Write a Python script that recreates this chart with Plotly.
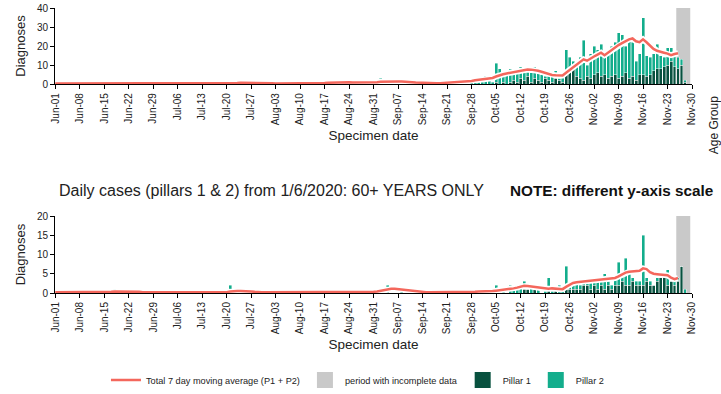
"""
Daily COVID-19 diagnoses by pillar, all ages and 60+ only.
"""

import pandas as pd
import plotly.graph_objects as go
from plotly.subplots import make_subplots

# Colours
P1_COLOR = '#08513f'
P2_COLOR = '#13ad8c'
MA_COLOR = '#f4675c'
GREY = '#c9c9c9'

# Specimen dates, one row per week (Mon 1 Jun 2020 .. Sun 29 Nov 2020)
DATES = pd.date_range('2020-06-01', '2020-11-29', freq='D')

INCOMPLETE_START = '2020-11-25 12:00'
INCOMPLETE_END = '2020-11-29 12:00'

# ---- All ages ----
all_p1 = [
    0, 0, 0, 0, 0, 0, 0,
    0, 0, 0, 0, 0, 0, 0,
    0, 0, 0, 0, 0, 0, 0,
    0, 0, 0, 0, 0, 0, 0,
    0, 0, 0, 0, 0, 0, 0,
    0, 0, 0, 0, 0, 0, 0,
    0, 0, 0, 0, 0, 0, 0,
    0, 0, 0, 0, 0, 0, 0,
    0, 0, 0, 0, 0, 0, 0,
    0, 0, 0, 0, 0, 0, 0,
    0, 0, 0, 0, 0, 0, 0,
    0, 0, 0, 0, 0, 0, 0,
    0, 0, 0, 0, 0, 0, 0,
    0, 0, 0, 0, 0, 0, 0,
    0, 0, 0, 0, 0, 0, 0,
    0, 0, 0, 0, 0, 0, 0,
    0, 0, 0, 0, 0, 0, 0,
    0, 0, 0, 0, 0, 0, 0,
    1, 0, 1, 0, 1, 2, 1,
    3, 2, 4, 1, 3, 2, 1,
    3, 2, 1, 3, 2, 1, 5,
    7, 9, 4, 3, 2, 4, 3,
    5, 6, 4, 5, 3, 4, 5,
    3, 4, 6, 3, 4, 2, 5,
    5, 4, 5, 7, 8, 8, 9,
    10, 12, 9, 8, 10, 1, 0,
]
all_p2 = [
    0, 0, 0, 0, 0, 0, 0,
    0, 0, 0, 0, 0, 0, 0,
    0, 0, 1, 0, 0, 1, 0,
    0, 1, 0, 0, 0, 0, 0,
    0, 0, 0, 0, 0, 0, 0,
    0, 0, 0, 0, 0, 0, 0,
    0, 0, 0, 0, 0, 0, 0,
    1, 0, 0, 1, 0, 0, 1,
    0, 1, 0, 0, 0, 0, 0,
    0, 0, 0, 0, 0, 0, 0,
    0, 0, 0, 0, 0, 1, 0,
    0, 1, 0, 1, 0, 0, 1,
    1, 0, 0, 1, 0, 0, 0,
    0, 0, 3, 1, 0, 1, 0,
    1, 0, 1, 2, 0, 0, 0,
    0, 0, 0, 0, 0, 1, 0,
    0, 0, 0, 1, 0, 0, 0,
    1, 3, 1, 2, 4, 2, 1,
    10, 8, 3, 5, 7, 4, 6,
    6, 6, 4, 5, 6, 5, 4,
    1, 5, 3, 4, 1, 3, 13,
    7, 3, 6, 11, 21, 6, 13,
    15, 12, 17, 9, 13, 16, 17,
    24, 22, 14, 22, 18, 10, 11,
    30, 11, 9, 9, 13, 7, 5,
    9, 7, 7, 6, 3, 1, 0,
]
all_ma = [
    0.3, 0.3, 0.3, 0.3, 0.3, 0.3, 0.3,
    0.3, 0.3, 0.3, 0.3, 0.3, 0.3, 0.3,
    0.3, 0.3, 0.4, 0.5, 0.5, 0.6, 0.6,
    0.6, 0.6, 0.5, 0.4, 0.4, 0.3, 0.3,
    0.3, 0.3, 0.3, 0.3, 0.3, 0.3, 0.3,
    0.3, 0.3, 0.3, 0.3, 0.3, 0.3, 0.3,
    0.3, 0.3, 0.3, 0.3, 0.3, 0.3, 0.3,
    0.4, 0.5, 0.6, 0.6, 0.7, 0.7, 0.7,
    0.7, 0.6, 0.6, 0.5, 0.4, 0.4, 0.4,
    0.3, 0.3, 0.3, 0.3, 0.3, 0.3, 0.3,
    0.3, 0.3, 0.3, 0.4, 0.4, 0.5, 0.5,
    0.6, 0.7, 0.8, 0.9, 0.9, 1.0, 1.0,
    1.0, 0.9, 0.9, 0.8, 0.8, 0.8, 0.7,
    0.8, 1.0, 1.2, 1.3, 1.4, 1.5, 1.5,
    1.4, 1.3, 1.3, 1.1, 1.0, 0.8, 0.7,
    0.6, 0.5, 0.5, 0.5, 0.5, 0.5, 0.6,
    0.7, 0.8, 0.9, 1.0, 1.1, 1.3, 1.4,
    1.6, 2.0, 2.2, 2.4, 2.6, 2.8, 3.2,
    4.0, 4.8, 5.2, 5.6, 6.0, 6.5, 6.8,
    7.2, 7.5, 7.7, 7.6, 7.4, 7.0, 6.5,
    5.8, 5.2, 4.8, 4.6, 4.4, 4.5, 6.0,
    7.5, 9.0, 10.5, 12.0, 13.0, 12.3, 13.2,
    14.5, 15.5, 16.5, 15.2, 16.5, 18.0, 19.5,
    20.5, 21.5, 22.5, 23.5, 24.0, 22.5, 22.0,
    23.5, 22.0, 20.0, 18.5, 17.5, 16.8, 16.5,
    16.0, 15.2, 15.8, 16.2, None, None, None,
]

# ---- 60+ years only ----
old_p1 = [
    0, 0, 0, 0, 0, 0, 0,
    0, 0, 0, 0, 0, 0, 0,
    0, 0, 0, 0, 0, 0, 0,
    0, 0, 0, 0, 0, 0, 0,
    0, 0, 0, 0, 0, 0, 0,
    0, 0, 0, 0, 0, 0, 0,
    0, 0, 0, 0, 0, 0, 0,
    0, 0, 0, 0, 0, 0, 0,
    0, 0, 0, 0, 0, 0, 0,
    0, 0, 0, 0, 0, 0, 0,
    0, 0, 0, 0, 0, 0, 0,
    0, 0, 0, 0, 0, 0, 0,
    0, 0, 0, 0, 0, 0, 0,
    0, 0, 0, 0, 0, 0, 0,
    0, 0, 0, 0, 0, 0, 0,
    0, 0, 0, 0, 0, 0, 0,
    0, 0, 0, 0, 0, 0, 0,
    0, 0, 0, 0, 0, 0, 0,
    0, 0, 0, 0, 0, 0, 0,
    0, 1, 1, 0, 1, 0, 0,
    0, 1, 0, 1, 0, 0, 1,
    1, 1, 1, 1, 2, 2, 1,
    2, 1, 2, 1, 2, 1, 2,
    2, 3, 2, 2, 3, 2, 2,
    2, 3, 2, 2, 3, 4, 4,
    2, 3, 2, 3, 7, 0, 0,
]
old_p2 = [
    0, 0, 0, 0, 0, 0, 0,
    0, 0, 0, 0, 0, 0, 0,
    0, 0, 0, 1, 0, 0, 0,
    0, 0, 0, 0, 0, 0, 0,
    0, 0, 0, 0, 0, 0, 0,
    0, 0, 0, 0, 0, 0, 0,
    0, 0, 0, 0, 0, 0, 0,
    0, 2, 0, 0, 0, 0, 0,
    0, 0, 0, 0, 0, 0, 0,
    0, 0, 0, 0, 0, 0, 0,
    0, 0, 0, 0, 0, 0, 0,
    0, 0, 0, 0, 0, 0, 0,
    1, 0, 0, 0, 0, 0, 0,
    0, 0, 0, 0, 2, 0, 0,
    0, 1, 0, 0, 0, 0, 0,
    0, 0, 0, 0, 0, 0, 0,
    0, 0, 0, 0, 0, 0, 1,
    0, 0, 1, 0, 0, 1, 0,
    2, 0, 1, 0, 2, 1, 1,
    2, 2, 0, 2, 0, 1, 0,
    1, 3, 1, 0, 2, 1, 6,
    1, 1, 2, 1, 1, 1, 2,
    2, 3, 1, 4, 1, 1, 2,
    6, 2, 7, 3, 1, 1, 1,
    13, 1, 1, 0, 1, 0, 1,
    4, 0, 1, 1, 0, 1, 0,
]
old_ma = [
    0.2, 0.2, 0.2, 0.2, 0.2, 0.2, 0.2,
    0.2, 0.2, 0.2, 0.2, 0.2, 0.2, 0.2,
    0.2, 0.3, 0.3, 0.4, 0.4, 0.4, 0.4,
    0.4, 0.4, 0.3, 0.3, 0.2, 0.2, 0.2,
    0.2, 0.2, 0.2, 0.2, 0.2, 0.2, 0.2,
    0.2, 0.2, 0.2, 0.2, 0.2, 0.2, 0.2,
    0.2, 0.2, 0.2, 0.2, 0.2, 0.2, 0.2,
    0.2, 0.4, 0.5, 0.5, 0.5, 0.5, 0.5,
    0.4, 0.3, 0.2, 0.2, 0.2, 0.2, 0.2,
    0.2, 0.2, 0.2, 0.2, 0.2, 0.2, 0.2,
    0.2, 0.2, 0.2, 0.2, 0.2, 0.2, 0.2,
    0.2, 0.2, 0.2, 0.2, 0.2, 0.2, 0.2,
    0.3, 0.3, 0.3, 0.3, 0.3, 0.3, 0.2,
    0.3, 0.4, 0.6, 0.8, 1.0, 1.1, 1.1,
    1.0, 0.9, 0.8, 0.6, 0.5, 0.4, 0.3,
    0.2, 0.2, 0.2, 0.2, 0.2, 0.2, 0.2,
    0.2, 0.2, 0.2, 0.2, 0.2, 0.3, 0.3,
    0.3, 0.3, 0.4, 0.4, 0.4, 0.5, 0.5,
    0.6, 0.7, 0.8, 0.9, 1.1, 1.2, 1.4,
    1.7, 1.9, 1.8, 1.7, 1.5, 1.4, 1.2,
    1.1, 1.1, 1.2, 1.1, 1.0, 1.0, 1.6,
    2.2, 2.6, 2.8, 2.9, 3.0, 3.0, 3.1,
    3.2, 3.3, 3.4, 3.5, 3.6, 3.7, 3.9,
    4.3, 4.8, 5.3, 5.5, 5.6, 5.6, 5.8,
    6.4, 6.2, 5.4, 5.0, 4.9, 4.8, 4.8,
    4.6, 4.0, 3.6, 3.9, None, None, None,
]

FONT = 'Liberation Sans, Arial, sans-serif'

fig = make_subplots(rows=2, cols=1)

panels = [(1, all_p1, all_p2, all_ma), (2, old_p1, old_p2, old_ma)]
for row, p1, p2, ma in panels:
    fig.add_trace(go.Bar(x=DATES, y=p1, marker=dict(color=P1_COLOR, line=dict(color='white', width=0.4)),
                         showlegend=False), row=row, col=1)
    fig.add_trace(go.Bar(x=DATES, y=p2, marker=dict(color=P2_COLOR, line=dict(color='white', width=0.4)),
                         showlegend=False), row=row, col=1)
    # white halo behind the moving average
    fig.add_trace(go.Scatter(x=DATES, y=ma, mode='lines', line=dict(color='white', width=6),
                             showlegend=False, hoverinfo='skip'), row=row, col=1)
    fig.add_trace(go.Scatter(x=DATES, y=ma, mode='lines', line=dict(color=MA_COLOR, width=2.5),
                             name='Total 7 day moving average (P1 + P2)', showlegend=(row == 1)),
                  row=row, col=1)
    fig.add_vrect(x0=INCOMPLETE_START, x1=INCOMPLETE_END, fillcolor=GREY, opacity=1,
                  line_width=0, layer='below', row=row, col=1)

# legend-only entries with big square swatches
for name, color in [('period with incomplete data', GREY), ('Pillar 1', P1_COLOR), ('Pillar 2', P2_COLOR)]:
    fig.add_trace(go.Scatter(x=[None], y=[None], mode='markers', name=name,
                             marker=dict(symbol='square', size=16, color=color)), row=1, col=1)

axis_common = dict(
    showline=True, linecolor='black', linewidth=1, ticks='outside', ticklen=4,
    tickcolor='black', showgrid=False, zeroline=False, automargin=False,
    tickfont=dict(size=10, color='#222'),
)
fig.update_xaxes(
    type='date', tickformat='%b-%d', tick0='2020-06-01', dtick=7 * 86400000,
    tickangle=-90, range=['2020-05-31 22:00', '2020-11-30'],
    title=dict(text='Specimen date', font=dict(size=13.5, color='#222'), standoff=6),
    **axis_common,
)
fig.update_yaxes(title=dict(text='Diagnoses', font=dict(size=13, color='#222'), standoff=8), **axis_common)
fig.update_layout(
    yaxis=dict(domain=[0.733, 1.0], range=[0, 40], dtick=10),
    yaxis2=dict(domain=[0.0, 0.27], range=[0, 20], dtick=5),
    xaxis=dict(anchor='y'), xaxis2=dict(anchor='y2'),
)

fig.add_annotation(text='Daily cases (pillars 1 & 2) from 1/6/2020: 60+ YEARS ONLY',
                   xref='paper', yref='paper', x=0.003, y=0.361, xanchor='left', yanchor='middle',
                   showarrow=False, font=dict(size=16, color='#222'))
fig.add_annotation(text='<b>NOTE: different y-axis scale</b>',
                   xref='paper', yref='paper', x=0.711, y=0.361, xanchor='left', yanchor='middle',
                   showarrow=False, font=dict(size=15.3, color='#111'))
fig.add_annotation(text='Age Group', textangle=-90,
                   xref='paper', yref='paper', x=1.035, y=0.59, xanchor='center', yanchor='middle',
                   showarrow=False, font=dict(size=12, color='#222'))

fig.update_layout(
    width=721, height=394,
    template='plotly_white',
    barmode='stack', bargap=0.15,
    font=dict(family=FONT, color='#222'),
    paper_bgcolor='white', plot_bgcolor='white',
    margin=dict(l=55, r=29, t=8, b=101, autoexpand=False),
    legend=dict(orientation='h', x=0.08, y=-0.305, xanchor='left', yanchor='middle',
                traceorder='normal', font=dict(size=9.2), itemwidth=30,
                bgcolor='rgba(0,0,0,0)'),
)

# the page's default body margin would shift the whole figure
fig.write_html("out.html", config={'displayModeBar': False},
               post_script="document.body.style.margin='0';")
